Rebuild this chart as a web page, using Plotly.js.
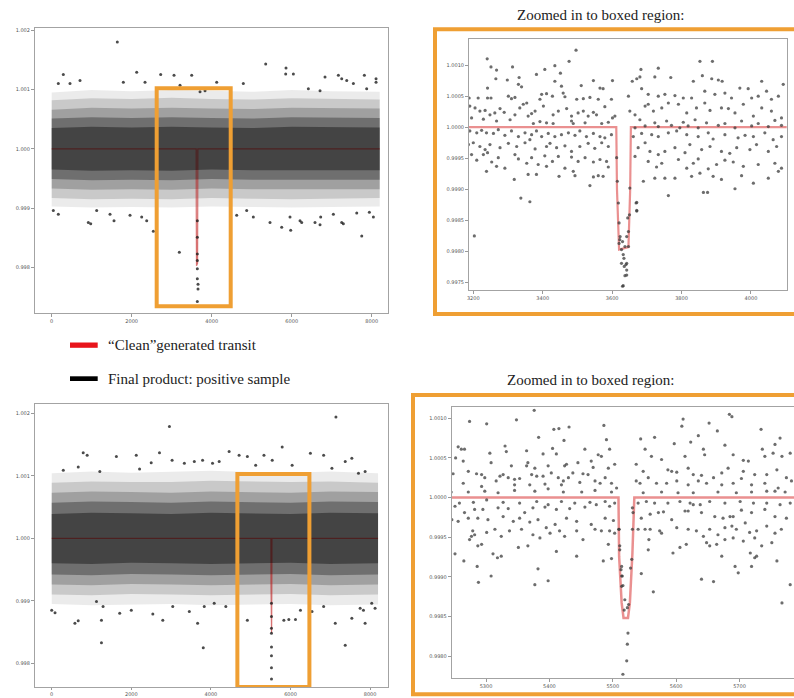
<!DOCTYPE html>
<html><head><meta charset="utf-8">
<script src="https://cdn.plot.ly/plotly-3.0.1.min.js"></script>
<style>html,body{margin:0;padding:0;background:#fff}#chart{width:794px;height:698px}</style>
</head><body><div id="chart"></div>
<script>
// ---------- DATA ----------
const titleText = "Zoomed in to boxed region:";
const legendLabels = ["\u201cClean\u201dgenerated transit", "Final product: positive sample"];

// transit models ("clean" generated transit)
const modelTopX = [0, 3612, 3614, 3620, 3647, 3652, 3654, 8200];
const modelTopY = [1, 1, 0.9990, 0.99803, 0.99807, 0.9990, 1, 1];
const modelBotX = [0, 5509, 5510, 5514, 5517, 5524, 5527, 5531, 5534, 8200];
const modelBotY = [1, 1, 0.99926, 0.99867, 0.99848, 0.99848, 0.99867, 0.99930, 1, 1];

// density envelopes of the dense point cloud of the full light curves (outer -> inner)
const bandX = [0, 1000, 2000, 3000, 4000, 5000, 6000, 7000, 8200];
const topEnvHi = [
 [1.00095,1.00099,1.00097,1.00099,1.00098,1.00096,1.00099,1.00097,1.00096],
 [1.00082,1.00085,1.00084,1.00086,1.00084,1.00083,1.00085,1.00084,1.00083],
 [1.00066,1.00069,1.00068,1.00069,1.00068,1.00067,1.00069,1.00068,1.00068],
 [1.00051,1.00053,1.00052,1.00053,1.00052,1.00051,1.00053,1.00052,1.00052],
 [1.00035,1.00037,1.00036,1.00037,1.00036,1.00035,1.00037,1.00036,1.00036]];
const topEnvLo = [
 [0.99903,0.99901,0.99902,0.99901,0.99903,0.99902,0.99901,0.99902,0.99903],
 [0.99917,0.99915,0.99916,0.99915,0.99917,0.99916,0.99915,0.99916,0.99917],
 [0.99933,0.99931,0.99932,0.99931,0.99933,0.99932,0.99931,0.99932,0.99932],
 [0.99949,0.99947,0.99948,0.99947,0.99949,0.99948,0.99947,0.99948,0.99948],
 [0.99965,0.99963,0.99964,0.99963,0.99965,0.99964,0.99963,0.99964,0.99964]];
const botEnvHi = [
 [1.00104,1.00107,1.00105,1.00106,1.00108,1.00106,1.00105,1.00107,1.00104],
 [1.00089,1.00091,1.00090,1.00090,1.00092,1.00091,1.00090,1.00091,1.00089],
 [1.00073,1.00075,1.00074,1.00073,1.00075,1.00074,1.00073,1.00075,1.00074],
 [1.00057,1.00059,1.00058,1.00057,1.00059,1.00058,1.00057,1.00059,1.00058],
 [1.00039,1.00041,1.00040,1.00039,1.00041,1.00040,1.00039,1.00041,1.00040]];
const botEnvLo = [
 [0.99895,0.99893,0.99894,0.99895,0.99893,0.99894,0.99895,0.99893,0.99894],
 [0.99910,0.99909,0.99911,0.99910,0.99909,0.99910,0.99911,0.99909,0.99910],
 [0.99926,0.99925,0.99927,0.99926,0.99925,0.99926,0.99927,0.99925,0.99926],
 [0.99942,0.99941,0.99943,0.99942,0.99941,0.99942,0.99943,0.99941,0.99942],
 [0.99960,0.99959,0.99961,0.99960,0.99959,0.99960,0.99961,0.99959,0.99960]];

// sparse points of the full light curves (outliers and transit points)
const topFullPts = [[1641,1.00180],[5350,1.00143],[5858,1.00136],[291,1.00125],[2125,1.00129],[3058,1.00124],[2725,1.00125],[3500,1.00124],[7816,1.00124],[7166,1.00124],[5850,1.00126],[6041,1.00126],[6833,1.00121],[8108,1.00118],[8108,1.00112],[7250,1.00118],[7375,1.00115],[7541,1.00110],[4791,1.00110],[6416,1.00101],[6708,1.00098],[166,1.00110],[458,1.00110],[7874,1.00101],[1791,1.00112],[2333,1.00112],[3708,1.00096],[4125,1.00112],[3833,1.00098],[3208,1.00107],[708,1.00115],
[41,0.99896],[166,0.99890],[916,0.99876],[975,0.99874],[1458,0.99890],[1558,0.99879],[1125,0.99896],[2375,0.99879],[2250,0.99885],[2541,0.99861],[1958,0.99888],[4625,0.99888],[4875,0.99896],[5041,0.99885],[5458,0.99876],[5750,0.99868],[5975,0.99863],[5958,0.99885],[6208,0.99879],[6250,0.99876],[6583,0.99876],[6708,0.99872],[6725,0.99885],[7250,0.99876],[7291,0.99874],[7625,0.99892],[7750,0.99853],[8041,0.99885],[7941,0.99893],[7041,0.99890],[3191,0.99826],
[3641,0.99879],[3641,0.99851],[3641,0.99823],[3641,0.99812],[3641,0.99798],[3641,0.99781],[3658,0.99772],[3658,0.99764],[3641,0.99743]];
const botFullPts = [[2958,1.00179],[7141,1.00194],[5791,1.00146],[791,1.00137],[891,1.00133],[1625,1.00131],[2125,1.00133],[2708,1.00137],[4458,1.00139],[4708,1.00133],[4916,1.00131],[5333,1.00133],[5541,1.00125],[6500,1.00136],[6833,1.00133],[7375,1.00123],[7541,1.00128],[291,1.00109],[666,1.00114],[1208,1.00107],[2208,1.00111],[2500,1.00121],[3025,1.00125],[3333,1.00120],[3583,1.00123],[3791,1.00125],[4041,1.00120],[4208,1.00123],[5125,1.00117],[6041,1.00117],[7041,1.00112],[7708,1.00104],[7875,1.00107],
[0,0.99885],[83,0.99881],[583,0.99864],[666,0.99868],[1250,0.99869],[1291,0.99891],[1125,0.99899],[1708,0.99880],[2000,0.99885],[2541,0.99879],[2791,0.99869],[3041,0.99891],[3458,0.99883],[3666,0.99864],[3808,0.99825],[3833,0.99891],[4083,0.99896],[4375,0.99891],[4916,0.99869],[5833,0.99869],[5958,0.99870],[6125,0.99870],[6250,0.99885],[6541,0.99883],[6833,0.99891],[7125,0.99864],[7375,0.99829],[7541,0.99872],[7750,0.99888],[7833,0.99885],[7875,0.99864],[8041,0.99896],[8125,0.99888],[1250,0.99833],
[5522,0.99896],[5522,0.99875],[5522,0.99856],[5522,0.99848],[5522,0.99826],[5522,0.99812],[5522,0.99793],[5522,0.99775]];

// points of the zoomed-in regions
const topZoomPts = [[3496,1.00124],[3240,1.00110],[3251,1.00097],[3267,1.00092],[3313,1.00097],[3476,1.00106],[3435,1.00099],[3406,1.00093],[3382,1.00085],[3265,1.00078],[3298,1.00076],[3332,1.00080],[3451,1.00087],[3435,1.00074],[3546,1.00075],[3601,1.00075],[3511,1.00067],[3565,1.00063],[3574,1.00062],[3241,1.00063],[3330,1.00069],[3339,1.00065],[3454,1.00066],[3188,1.00047],[3214,1.00047],[3241,1.00047],[3251,1.00047],[3301,1.00050],[3310,1.00046],[3320,1.00048],[3354,1.00039],[3397,1.00053],[3411,1.00054],[3392,1.00045],[3428,1.00050],[3459,1.00055],[3464,1.00049],[3498,1.00045],[3517,1.00046],[3536,1.00048],[3560,1.00045],[3598,1.00045],[3190,1.00034],[3205,1.00031],[3219,1.00026],[3234,1.00027],[3248,1.00020],[3262,1.00023],[3277,1.00030],[3289,1.00024],[3320,1.00020],[3334,1.00031],[3344,1.00037],[3358,1.00018],[3368,1.00022],[3378,1.00026],[3402,1.00034],[3430,1.00020],[3445,1.00026],[3469,1.00030],[3483,1.00018],[3502,1.00023],[3517,1.00026],[3531,1.00018],[3546,1.00024],[3555,1.00020],[3579,1.00033],[3601,1.00015],[3608,1.00018],[3195,1.00015],[3229,1.00013],[3306,1.00012],[3267,1.00010],[3373,1.00006],[3392,1.00009],[3411,1.00007],[3430,1.00006],[3483,1.00010],[3488,1.00006],[3522,1.00007],[3570,1.00006],[3589,1.00008],
[3190,0.99994],[3210,0.99991],[3224,0.99995],[3238,0.99991],[3258,0.99990],[3272,0.99996],[3291,0.99987],[3310,0.99994],[3330,0.99985],[3349,0.99991],[3368,0.99988],[3382,0.99994],[3397,0.99985],[3416,0.99990],[3435,0.99985],[3454,0.99988],[3474,0.99991],[3493,0.99987],[3507,0.99994],[3526,0.99985],[3546,0.99990],[3565,0.99985],[3579,0.99983],[3598,0.99988],[3186,0.99972],[3200,0.99975],[3219,0.99969],[3234,0.99964],[3248,0.99972],[3277,0.99967],[3301,0.99974],[3325,0.99969],[3349,0.99975],[3363,0.99980],[3378,0.99965],[3411,0.99969],[3421,0.99974],[3440,0.99967],[3464,0.99970],[3483,0.99961],[3507,0.99969],[3531,0.99974],[3550,0.99966],[3570,0.99975],[3589,0.99969],[3195,0.99956],[3210,0.99947],[3229,0.99956],[3241,0.99959],[3253,0.99944],[3272,0.99951],[3320,0.99956],[3330,0.99949],[3354,0.99942],[3368,0.99951],[3387,0.99940],[3406,0.99954],[3428,0.99945],[3445,0.99953],[3483,0.99952],[3502,0.99945],[3522,0.99951],[3546,0.99944],[3565,0.99948],[3584,0.99945],[3238,0.99929],[3267,0.99937],[3291,0.99934],[3318,0.99916],[3358,0.99924],[3382,0.99924],[3411,0.99937],[3447,0.99921],[3464,0.99934],[3488,0.99929],[3493,0.99922],[3536,0.99906],[3546,0.99920],[3560,0.99922],[3574,0.99921],[3589,0.99936],[3337,0.99886],[3363,0.99880],[3203,0.99825],
[3622,0.99819],[3620,0.99846],[3618,0.99878],[3620,0.99813],[3627,0.99803],[3632,0.99795],[3627,0.99781],[3635,0.99776],[3637,0.99761],[3632,0.99745],[3613,0.99951],[3615,0.99913],[3623,0.99824],[3630,0.99816],[3637,0.99808],[3642,0.99824],[3647,0.99832],[3650,0.99859],[3651,0.99902],[3669,0.99878],[3671,0.99866],[3640,0.99779],[3642,0.99762],[3630,0.99744],[3634,0.99789],
[3853,1.00106],[3889,1.00106],[3683,1.00093],[3733,1.00095],[3658,1.00074],[3671,1.00078],[3680,1.00081],[3723,1.00081],[3769,1.00080],[3834,1.00074],[3860,1.00083],[3887,1.00078],[3906,1.00076],[3917,1.00074],[4031,1.00074],[4093,1.00069],[3647,1.00050],[3685,1.00062],[3704,1.00053],[3733,1.00050],[3752,1.00053],[3781,1.00051],[3805,1.00047],[3829,1.00047],[3867,1.00058],[3896,1.00053],[3925,1.00055],[3944,1.00047],[3968,1.00063],[3992,1.00062],[4002,1.00047],[4021,1.00050],[4045,1.00058],[4059,1.00045],[4079,1.00050],[3651,1.00026],[3666,1.00020],[3695,1.00034],[3704,1.00037],[3719,1.00026],[3743,1.00031],[3762,1.00039],[3791,1.00037],[3815,1.00023],[3843,1.00031],[3867,1.00039],[3882,1.00027],[3915,1.00031],[3935,1.00030],[3954,1.00023],[3978,1.00037],[4007,1.00018],[4031,1.00031],[4059,1.00026],[4088,1.00015],[3680,1.00012],[3723,1.00007],[3757,1.00010],[3805,1.00008],[3839,1.00012],[3872,1.00007],[3925,1.00006],[3973,1.00010],[4021,1.00006],[4069,1.00011],[3666,0.99999],[3695,1.00002],[3733,1.00001],[3771,1.00003],[3795,0.99999],[3819,1.00002],[3848,0.99999],[3906,1.00003],[3954,0.99999],[4002,1.00002],[4050,1.00001],[4088,1.00003],
[3661,0.99985],[3685,0.99990],[3714,0.99988],[3733,0.99985],[3762,0.99991],[3786,0.99994],[3815,0.99988],[3848,0.99985],[3877,0.99991],[3891,0.99981],[3925,0.99988],[3963,0.99983],[3983,0.99987],[4007,0.99985],[4040,0.99991],[4064,0.99980],[4088,0.99985],[3675,0.99967],[3695,0.99975],[3709,0.99961],[3733,0.99956],[3752,0.99961],[3781,0.99967],[3810,0.99959],[3824,0.99972],[3858,0.99964],[3882,0.99969],[3915,0.99961],[3939,0.99958],[3959,0.99967],[3997,0.99964],[4016,0.99972],[4050,0.99961],[4074,0.99969],[3666,0.99953],[3704,0.99945],[3728,0.99936],[3743,0.99942],[3791,0.99948],[3815,0.99934],[3834,0.99942],[3848,0.99949],[3877,0.99933],[3901,0.99940],[3925,0.99947],[3949,0.99944],[3978,0.99937],[4021,0.99940],[4069,0.99942],[4088,0.99934],[3690,0.99913],[3723,0.99918],[3752,0.99918],[3781,0.99918],[3829,0.99921],[3853,0.99926],[3891,0.99921],[3915,0.99916],[3973,0.99922],[4007,0.99910],[4050,0.99918],[4079,0.99929],[3762,0.99890],[3863,0.99895],[3875,0.99895],[3954,0.99901],[3671,0.99879],[3671,0.99865],[3647,0.99808],[3645,0.99854],[3642,0.99781],[3642,0.99770]];

const botZoomPts = [[5376,1.00110],[5274,1.00096],[5301,1.00093],[5348,1.00098],[5486,1.00091],[5407,1.00086],[5415,1.00087],[5431,1.00089],[5383,1.00076],[5423,1.00072],[5490,1.00073],[5256,1.00064],[5261,1.00061],[5266,1.00061],[5306,1.00056],[5330,1.00065],[5332,1.00058],[5364,1.00059],[5390,1.00055],[5405,1.00062],[5411,1.00055],[5456,1.00061],[5477,1.00054],[5482,1.00052],[5495,1.00061],[5252,1.00050],[5264,1.00046],[5308,1.00044],[5340,1.00040],[5366,1.00044],[5377,1.00037],[5398,1.00040],[5424,1.00040],[5427,1.00042],[5445,1.00044],[5466,1.00046],[5469,1.00038],[5493,1.00037],[5503,1.00042],[5248,1.00030],[5272,1.00033],[5285,1.00030],[5293,1.00029],[5298,1.00025],[5322,1.00027],[5327,1.00029],[5335,1.00025],[5345,1.00023],[5353,1.00024],[5364,1.00040],[5372,1.00029],[5380,1.00027],[5390,1.00027],[5403,1.00031],[5414,1.00025],[5422,1.00021],[5430,1.00025],[5437,1.00031],[5453,1.00030],[5461,1.00029],[5472,1.00021],[5488,1.00025],[5498,1.00018],[5506,1.00012],[5264,1.00018],[5293,1.00014],[5316,1.00021],[5345,1.00016],[5369,1.00016],[5393,1.00017],[5419,1.00016],[5448,1.00019],[5480,1.00018],[5245,1.00007],[5272,1.00007],[5298,1.00008],[5319,1.00006],[5345,1.00009],[5377,1.00008],[5398,1.00011],[5422,1.00007],[5451,1.00007],[5472,1.00009],[5498,1.00007],
[5258,0.99993],[5280,0.99994],[5301,0.99997],[5327,0.99994],[5353,0.99993],[5380,0.99995],[5398,0.99991],[5419,0.99995],[5440,0.99993],[5464,0.99994],[5488,0.99995],[5503,0.99993],[5251,0.99989],[5266,0.99981],[5282,0.99985],[5295,0.99985],[5319,0.99987],[5335,0.99986],[5361,0.99981],[5374,0.99987],[5393,0.99988],[5411,0.99985],[5432,0.99986],[5456,0.99988],[5474,0.99991],[5495,0.99989],[5246,0.99972],[5256,0.99970],[5272,0.99974],[5287,0.99974],[5303,0.99972],[5327,0.99976],[5343,0.99970],[5353,0.99974],[5369,0.99969],[5382,0.99972],[5395,0.99962],[5409,0.99966],[5427,0.99974],[5443,0.99970],[5466,0.99966],[5488,0.99974],[5501,0.99971],[5279,0.99958],[5277,0.99951],[5282,0.99953],[5274,0.99947],[5301,0.99956],[5314,0.99960],[5324,0.99951],[5337,0.99958],[5356,0.99960],[5374,0.99953],[5385,0.99949],[5401,0.99955],[5416,0.99958],[5424,0.99951],[5443,0.99958],[5453,0.99947],[5472,0.99960],[5482,0.99958],[5495,0.99958],[5503,0.99955],[5251,0.99929],[5265,0.99920],[5287,0.99939],[5293,0.99941],[5311,0.99929],[5318,0.99924],[5324,0.99926],[5351,0.99937],[5366,0.99939],[5411,0.99932],[5443,0.99926],[5485,0.99920],[5493,0.99941],[5498,0.99923],[5286,0.99913],[5308,0.99901],[5288,0.99893],[5377,0.99890],[5382,0.99910],[5398,0.99895],
[5510,0.99960],[5511,0.99934],[5513,0.99909],[5514,0.99901],[5514,0.99888],
[5684,1.00105],[5688,1.00102],[5611,1.00099],[5652,1.00094],[5609,1.00090],[5734,1.00086],[5665,1.00084],[5544,1.00074],[5566,1.00076],[5635,1.00078],[5764,1.00075],[5551,1.00061],[5597,1.00068],[5623,1.00070],[5643,1.00061],[5677,1.00066],[5736,1.00061],[5756,1.00067],[5561,1.00052],[5577,1.00048],[5614,1.00052],[5645,1.00054],[5690,1.00054],[5706,1.00047],[5714,1.00046],[5740,1.00052],[5753,1.00056],[5767,1.00052],[5780,1.00056],[5537,1.00042],[5548,1.00033],[5587,1.00035],[5593,1.00033],[5601,1.00032],[5619,1.00037],[5627,1.00029],[5640,1.00028],[5659,1.00025],[5672,1.00031],[5682,1.00037],[5706,1.00033],[5724,1.00029],[5743,1.00029],[5759,1.00035],[5774,1.00025],[5537,1.00021],[5543,1.00018],[5556,1.00025],[5569,1.00018],[5585,1.00018],[5601,1.00021],[5619,1.00016],[5635,1.00021],[5648,1.00018],[5672,1.00016],[5690,1.00018],[5703,1.00024],[5719,1.00016],[5740,1.00018],[5761,1.00012],[5782,1.00021],[5548,1.00006],[5577,1.00007],[5603,1.00006],[5627,1.00006],[5666,1.00007],[5695,1.00006],[5719,1.00007],[5743,1.00008],[5756,1.00008],[5772,1.00007],
[5540,0.99993],[5553,0.99995],[5566,0.99993],[5587,0.99993],[5606,0.99995],[5622,0.99993],[5638,0.99991],[5653,0.99995],[5677,0.99993],[5701,0.99995],[5722,0.99993],[5743,0.99993],[5764,0.99991],[5780,0.99993],[5545,0.99974],[5559,0.99979],[5572,0.99981],[5580,0.99982],[5593,0.99972],[5614,0.99983],[5619,0.99983],[5627,0.99991],[5640,0.99981],[5661,0.99976],[5674,0.99974],[5685,0.99976],[5690,0.99976],[5703,0.99984],[5719,0.99981],[5740,0.99985],[5756,0.99976],[5774,0.99974],[5540,0.99960],[5551,0.99960],[5559,0.99960],[5574,0.99958],[5577,0.99955],[5601,0.99962],[5619,0.99960],[5632,0.99958],[5643,0.99951],[5653,0.99960],[5666,0.99953],[5677,0.99962],[5688,0.99964],[5695,0.99960],[5709,0.99968],[5716,0.99956],[5727,0.99958],[5743,0.99964],[5756,0.99955],[5766,0.99960],[5557,0.99947],[5556,0.99934],[5595,0.99930],[5606,0.99937],[5616,0.99941],[5648,0.99943],[5653,0.99939],[5664,0.99941],[5677,0.99947],[5690,0.99949],[5706,0.99945],[5724,0.99949],[5735,0.99939],[5751,0.99943],[5672,0.99926],[5693,0.99913],[5698,0.99905],[5717,0.99930],[5719,0.99913],[5724,0.99924],[5727,0.99926],[5759,0.99920],[5545,0.99904],[5640,0.99897],[5659,0.99894],[5564,0.99881],[5767,0.99867],[5780,0.99890],
[5509.5,0.99960],[5511,0.99939],[5514,0.99913],[5515,0.99901],[5516,0.99889],[5519,0.99871],[5518,0.99858],[5523,0.99861],[5525,0.99865],[5528,0.99911],[5530,0.99922],[5531,0.99960],[5532,0.99981],[5531,0.99987],[5524,0.99829],[5523,0.99815],[5522,0.99794],[5516,0.99777]];

// boxed regions (in data units of the full light curves)
const topBoxX = [2625, 4475], topBoxY = [0.99735, 1.00102];
const botBoxX = [4665, 6475], botBoxY = [0.99762, 1.00103];

// ---------- STYLE ----------
const ORANGE = '#EF9F33';
const bandAlpha = [0.08, 0.14, 0.20, 0.30, 0.38];
const tickFont = {family: 'DejaVu Sans', size: 5, color: '#555'};
const serif = 'Liberation Serif, Times New Roman, serif';
function px(x){return x/794;} function py(y){return 1 - y/698;}

function band(xs, hi, lo, xa, ya, alpha){
  return {x: xs.concat(xs.slice().reverse()), y: hi.concat(lo.slice().reverse()),
    xaxis: xa, yaxis: ya, type: 'scatter', mode: 'lines', fill: 'toself',
    fillcolor: 'rgba(0,0,0,' + alpha + ')', line: {width: 0}, hoverinfo: 'skip', showlegend: false};
}
function pts(arr, xa, ya, size, color){
  return {x: arr.map(p => p[0]), y: arr.map(p => p[1]), xaxis: xa, yaxis: ya, type: 'scatter',
    mode: 'markers', marker: {size: size, color: color, line: {width: 0}}, showlegend: false};
}
function model(xs, ys, xa, ya, color, w){
  return {x: xs, y: ys, xaxis: xa, yaxis: ya, type: 'scatter', mode: 'lines',
    line: {color: color, width: w}, showlegend: false};
}
function fullPanel(hi, lo, mx, my, pointsArr, xa, ya){
  const out = [];
  for (let i = 0; i < 3; i++) out.push(band(bandX, hi[i], lo[i], xa, ya, bandAlpha[i]));
  out.push(model(mx, my, xa, ya, 'rgba(190,20,20,0.6)', 1.2));
  for (let i = 3; i < hi.length; i++) out.push(band(bandX, hi[i], lo[i], xa, ya, bandAlpha[i]));
  out.push(pts(pointsArr, xa, ya, 3, 'rgba(30,30,30,0.8)'));
  return out;
}

const traces = [].concat(
  fullPanel(topEnvHi, topEnvLo, modelTopX, modelTopY, topFullPts, 'x', 'y'),
  [model(modelTopX, modelTopY, 'x2', 'y2', 'rgba(220,70,70,0.6)', 2.2),
   pts(topZoomPts, 'x2', 'y2', 3.2, 'rgba(60,60,60,0.75)')],
  fullPanel(botEnvHi, botEnvLo, modelBotX, modelBotY, botFullPts, 'x3', 'y3'),
  [model(modelBotX, modelBotY, 'x4', 'y4', 'rgba(220,70,70,0.6)', 2.5),
   pts(botZoomPts, 'x4', 'y4', 3.2, 'rgba(60,60,60,0.75)')]
);

function ax(domain, range, extra){
  return Object.assign({domain: domain, range: range, showline: true, mirror: true, linecolor: '#a3a3a3',
    linewidth: 1, showgrid: false, zeroline: false, ticks: 'outside', ticklen: 3, tickcolor: '#999',
    tickfont: tickFont, fixedrange: true}, extra);
}

const layout = {
  width: 794, height: 698, margin: {l: 0, r: 0, t: 0, b: 0},
  paper_bgcolor: '#fff', plot_bgcolor: '#fff', showlegend: false,
  xaxis: ax([px(35), px(388)], [-417, 8407], {anchor: 'y', tickvals: [0,2000,4000,6000,8000]}),
  yaxis: ax([py(312.7), py(28.3)], [0.99724, 1.00203], {anchor: 'x', tickvals: [0.998,0.999,1.000,1.001,1.002], tickformat: '.3f'}),
  xaxis2: ax([px(469), px(786.7)], [3187.6, 4103], {anchor: 'y2', tickvals: [3200,3400,3600,3800,4000]}),
  yaxis2: ax([py(290), py(39.3)], [0.99738, 1.001415], {anchor: 'x2', dtick: 0.0005, tick0: 0.9975, tickformat: '.4f'}),
  xaxis3: ax([px(35), px(388)], [-420, 8450], {anchor: 'y3', tickvals: [0,2000,4000,6000,8000], ticklen: 2}),
  yaxis3: ax([py(687), py(404)], [0.99762, 1.00215], {anchor: 'x3', tickvals: [0.998,0.999,1.000,1.001,1.002], tickformat: '.3f'}),
  xaxis4: ax([px(451.7), 1], [5245.8, 5786], {anchor: 'y4', tickvals: [5300,5400,5500,5600,5700]}),
  yaxis4: ax([py(678.3), py(406.7)], [0.997719, 1.001146], {anchor: 'x4', dtick: 0.0005, tick0: 0.998, tickformat: '.4f'}),
  shapes: [
    {type: 'rect', xref: 'x', yref: 'y', x0: topBoxX[0], x1: topBoxX[1], y0: topBoxY[0], y1: topBoxY[1], line: {color: ORANGE, width: 4}},
    {type: 'rect', xref: 'x3', yref: 'y3', x0: botBoxX[0], x1: botBoxX[1], y0: botBoxY[0], y1: botBoxY[1], line: {color: ORANGE, width: 4}},
    {type: 'rect', xref: 'paper', yref: 'paper', x0: px(435), x1: px(810), y0: py(314), y1: py(29.3), line: {color: ORANGE, width: 4}},
    {type: 'rect', xref: 'paper', yref: 'paper', x0: px(413), x1: px(810), y0: py(694.3), y1: py(395), line: {color: ORANGE, width: 4}},
    {type: 'rect', xref: 'paper', yref: 'paper', x0: px(70), x1: px(97.7), y0: py(347.8), y1: py(342.5), fillcolor: '#E8141B', line: {width: 0}},
    {type: 'rect', xref: 'paper', yref: 'paper', x0: px(70), x1: px(97.7), y0: py(381), y1: py(376.3), fillcolor: '#000', line: {width: 0}}
  ],
  annotations: [
    {xref: 'paper', yref: 'paper', x: px(600), y: py(15), text: titleText, showarrow: false, xanchor: 'center', yanchor: 'middle', font: {family: serif, size: 15, color: '#222'}},
    {xref: 'paper', yref: 'paper', x: px(590), y: py(380), text: titleText, showarrow: false, xanchor: 'center', yanchor: 'middle', font: {family: serif, size: 15, color: '#222'}},
    {xref: 'paper', yref: 'paper', x: px(106), y: py(345), text: legendLabels[0], showarrow: false, xanchor: 'left', yanchor: 'middle', font: {family: serif, size: 15, color: '#222'}},
    {xref: 'paper', yref: 'paper', x: px(106), y: py(378.7), text: legendLabels[1], showarrow: false, xanchor: 'left', yanchor: 'middle', font: {family: serif, size: 15, color: '#222'}}
  ]
};

Plotly.newPlot('chart', traces, layout, {displayModeBar: false, staticPlot: true});
</script>
</body></html>
